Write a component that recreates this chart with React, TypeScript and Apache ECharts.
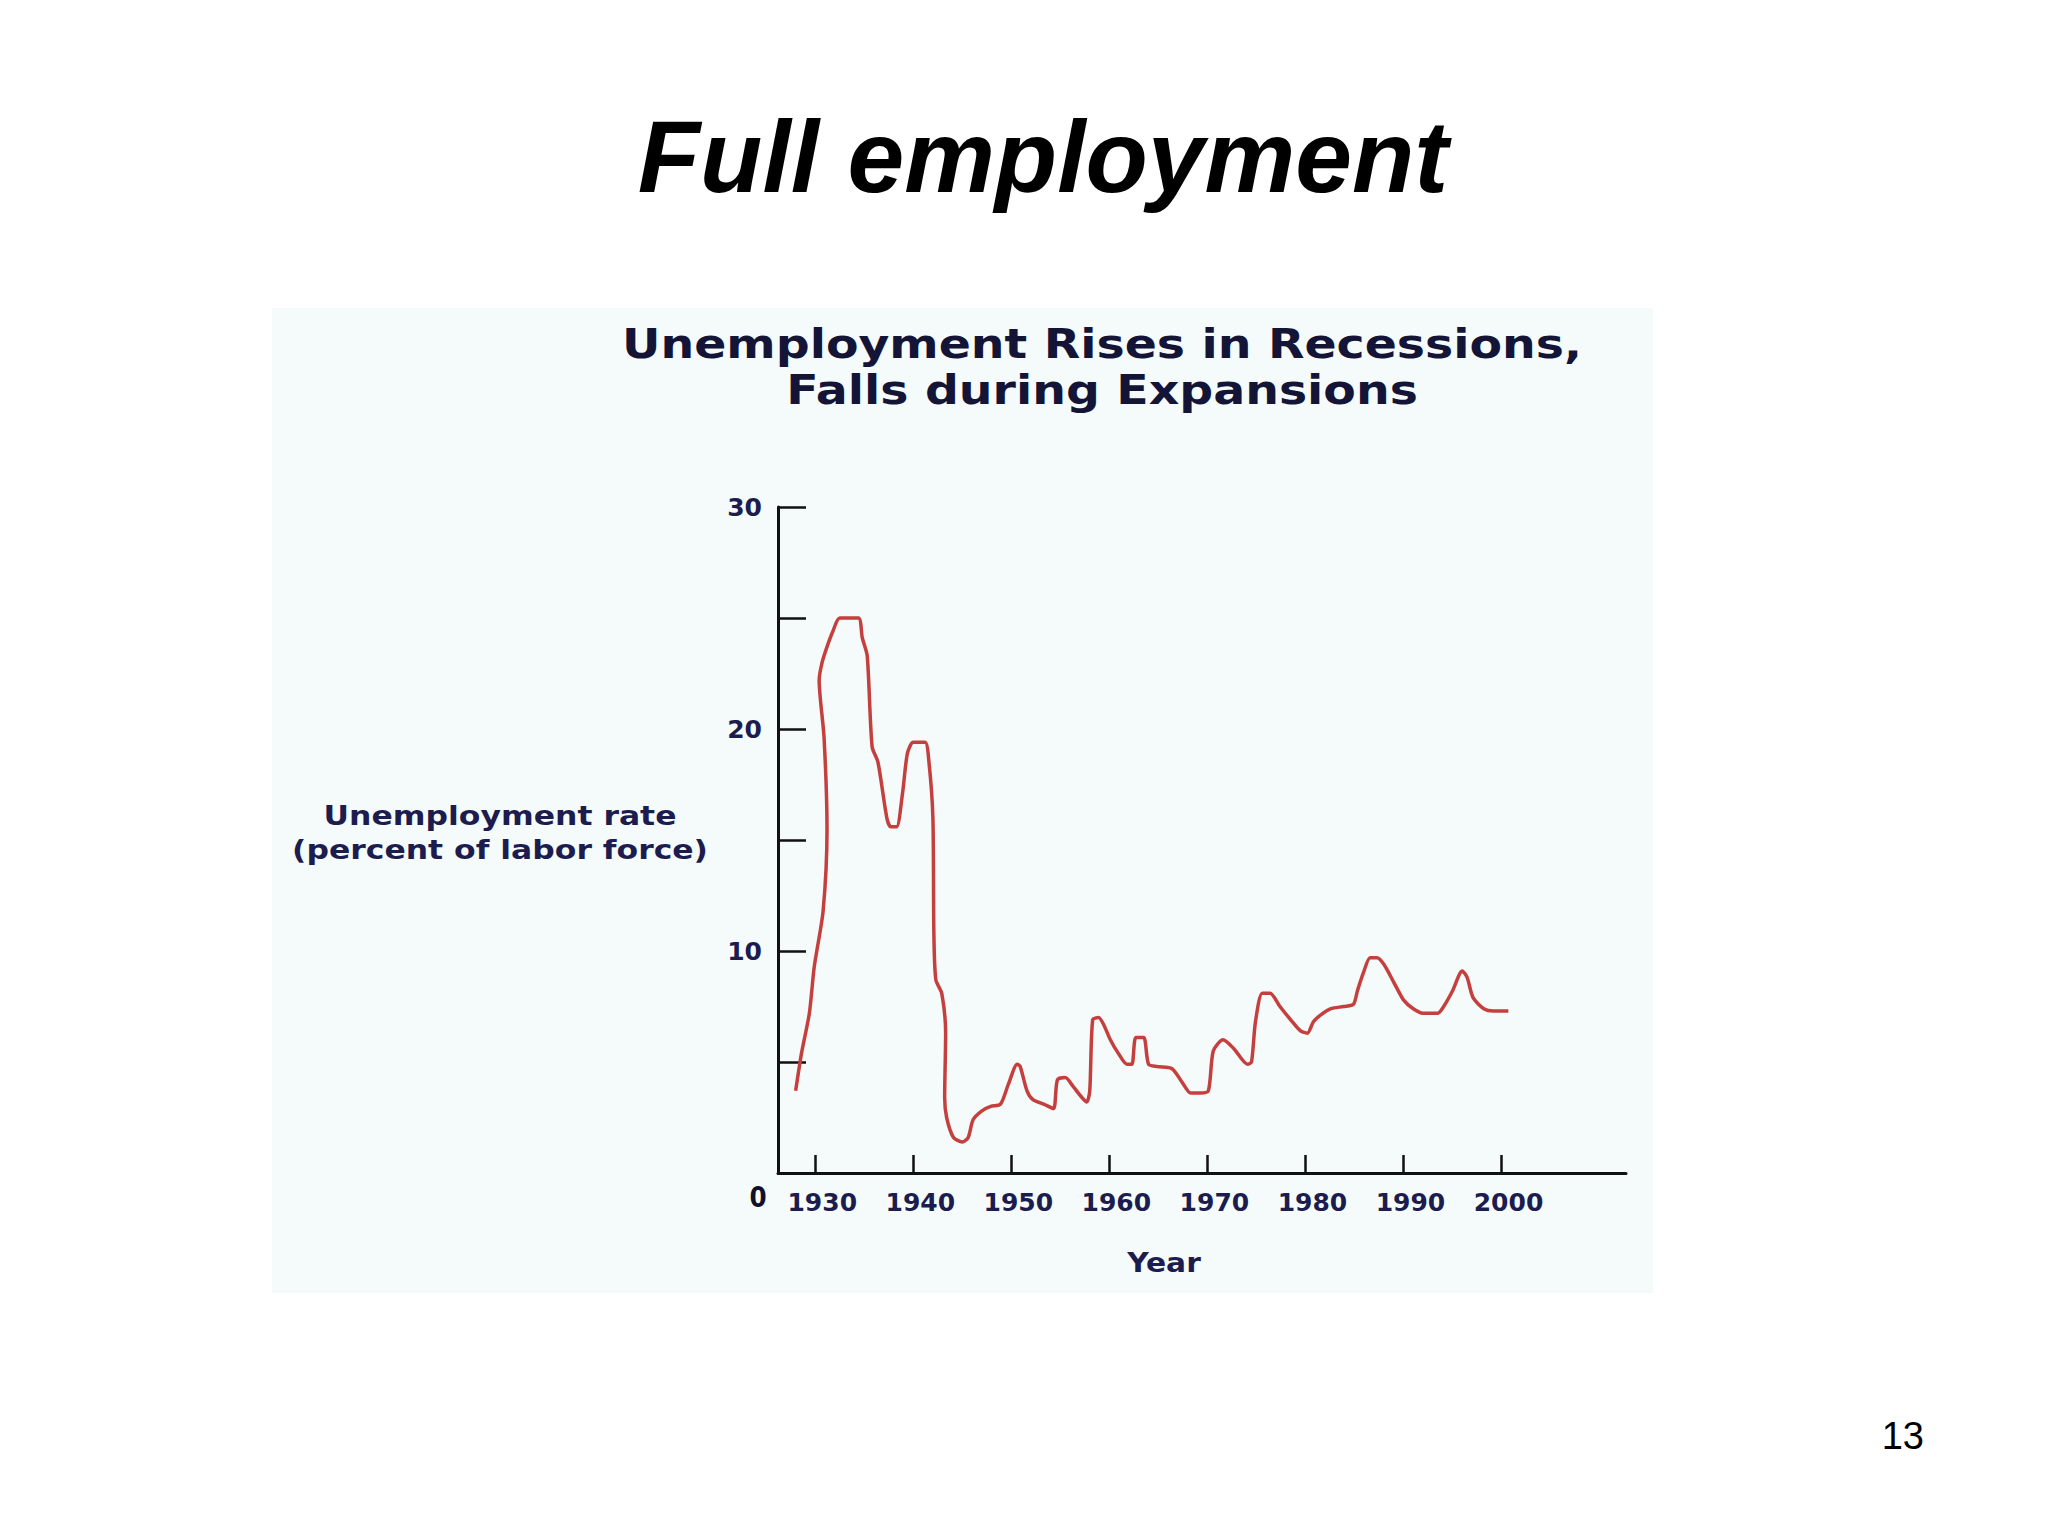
import React, { useEffect, useRef } from "react";
import * as echarts from "echarts";

// ---- data ----
const years: number[] = [
  1928.0, 1928.6, 1929.4, 1929.9, 1930.8, 1931.2, 1930.9, 1930.4, 1930.7, 1931.2,
  1931.8, 1932.5, 1934.4, 1934.8, 1935.3, 1935.8, 1936.4, 1937.3, 1937.7, 1938.3,
  1938.9, 1939.4, 1940.0, 1941.2, 1941.6, 1942.0, 1942.1, 1942.3, 1942.9, 1943.3,
  1943.2, 1943.4, 1944.1, 1945.0, 1945.6, 1946.1, 1947.0, 1947.9, 1948.9, 1949.7,
  1950.6, 1950.9, 1951.6, 1952.2, 1953.3, 1954.3, 1954.7, 1955.5, 1956.3, 1957.2,
  1957.7, 1958.0, 1958.3, 1958.9, 1959.4, 1960.1, 1960.9, 1961.8, 1962.3, 1962.7,
  1963.5, 1964.0, 1964.9, 1966.4, 1967.4, 1968.3, 1969.3, 1970.1, 1970.6, 1971.6,
  1972.7, 1974.1, 1974.5, 1974.9, 1975.6, 1976.4, 1977.4, 1978.5, 1979.5, 1980.2,
  1980.8, 1981.5, 1982.6, 1983.9, 1984.9, 1985.3, 1985.9, 1986.6, 1987.3, 1988.0,
  1989.0, 1990.0, 1991.0, 1992.0, 1993.5, 1994.1, 1995.0, 1996.0, 1996.5, 1997.1,
  1998.2, 1999.2, 2000.7,
];
const rates: number[] = [
  3.7, 5.4, 7.2, 9.3, 11.8, 15.5, 19.6, 22.2, 23.0, 23.7,
  24.4, 25.0, 25.0, 24.1, 23.3, 19.2, 18.5, 16.0, 15.6, 15.6,
  17.1, 18.9, 19.4, 19.4, 18.5, 16.0, 10.8, 8.7, 8.1, 6.3,
  3.4, 2.5, 1.6, 1.4, 1.6, 2.4, 2.8, 3.0, 3.1, 4.0,
  4.9, 4.8, 3.7, 3.3, 3.1, 2.9, 4.2, 4.3, 3.9, 3.4,
  3.2, 3.7, 6.9, 7.0, 6.7, 6.0, 5.4, 4.9, 4.9, 6.1,
  6.1, 4.9, 4.8, 4.7, 4.1, 3.6, 3.6, 3.7, 5.5, 6.0,
  5.6, 4.9, 5.0, 6.8, 8.1, 8.1, 7.5, 6.9, 6.4, 6.3,
  6.8, 7.1, 7.4, 7.5, 7.6, 8.2, 9.0, 9.7, 9.7, 9.4,
  8.6, 7.8, 7.4, 7.2, 7.2, 7.5, 8.2, 9.1, 8.8, 7.9,
  7.4, 7.3, 7.3,
];
const xTickYears: number[] = [1930, 1940, 1950, 1960, 1970, 1980, 1990, 2000];
const yLabelValues: number[] = [10, 20, 30];

const slideTitle = "Full employment";
const chartTitleLines = ["Unemployment Rises in Recessions,", "Falls during Expansions"];
const yNameLines = ["Unemployment rate", "(percent of labor force)"];
const xName = "Year";
const pageNumber = "13";

const NAVY = "#1c1c4e";
const NAVY_DARK = "#141436";

export default function App() {
  const ref = useRef<HTMLDivElement>(null);

  useEffect(() => {
    if (!ref.current) return;
    const chart = echarts.init(ref.current, undefined, { renderer: "svg" });
    const data = years.map((y, i) => [y, rates[i]]);

    const option: any = {
      animation: false,
      backgroundColor: "#ffffff",
      grid: { left: 778, top: 507, width: 848, height: 666, containLabel: false },
      xAxis: {
        type: "value",
        min: 1926.2,
        max: 2012.7,
        axisLine: { show: true, lineStyle: { color: "#111111", width: 3 } },
        axisTick: {
          show: true,
          inside: true,
          length: 18,
          customValues: xTickYears,
          lineStyle: { color: "#111111", width: 2.5 },
        },
        axisLabel: {
          show: true,
          customValues: xTickYears,
          margin: 17,
          padding: [0, 0, 0, 14],
          color: NAVY,
          fontFamily: "DejaVu Sans",
          fontWeight: "bold",
          fontSize: 25,
          formatter: (v: number) => String(Math.round(v)),
        },
        splitLine: { show: false },
      },
      yAxis: {
        type: "value",
        min: 0,
        max: 30,
        interval: 5,
        axisLine: { show: true, lineStyle: { color: "#111111", width: 3 } },
        axisTick: {
          show: true,
          inside: true,
          length: 28,
          lineStyle: { color: "#111111", width: 2.5 },
        },
        axisLabel: {
          show: true,
          margin: 16,
          color: NAVY,
          fontFamily: "DejaVu Sans",
          fontWeight: "bold",
          fontSize: 25,
          formatter: (v: number) => (yLabelValues.indexOf(v) >= 0 ? String(v) : ""),
        },
        splitLine: { show: false },
      },
      series: [
        {
          type: "line",
          data,
          showSymbol: false,
          smooth: 0.25,
          lineStyle: { color: "#c43f3e", width: 3.5 },
          z: 3,
        },
      ],
      graphic: [
        {
          type: "rect",
          z: -10,
          silent: true,
          shape: { x: 272, y: 308, width: 1381, height: 985 },
          style: { fill: "#f4fbfa" },
        },
        {
          type: "text",
          x: 1043,
          y: 157,
          z: 10,
          style: {
            text: slideTitle,
            fontFamily: "Liberation Sans",
            fontWeight: "bold",
            fontStyle: "italic",
            fontSize: 102,
            fill: "#000000",
            align: "center",
            verticalAlign: "middle",
          },
        },
        {
          type: "text",
          x: 1102,
          y: 344,
          z: 10,
          scaleX: 1.185,
          style: {
            text: chartTitleLines[0],
            fontFamily: "DejaVu Sans",
            fontWeight: "bold",
            fontSize: 40,
            fill: NAVY_DARK,
            align: "center",
            verticalAlign: "middle",
          },
        },
        {
          type: "text",
          x: 1102,
          y: 390,
          z: 10,
          scaleX: 1.185,
          style: {
            text: chartTitleLines[1],
            fontFamily: "DejaVu Sans",
            fontWeight: "bold",
            fontSize: 40,
            fill: NAVY_DARK,
            align: "center",
            verticalAlign: "middle",
          },
        },
        {
          type: "text",
          x: 500,
          y: 816,
          z: 10,
          scaleX: 1.21,
          style: {
            text: yNameLines[0],
            fontFamily: "DejaVu Sans",
            fontWeight: "bold",
            fontSize: 26,
            fill: NAVY,
            align: "center",
            verticalAlign: "middle",
          },
        },
        {
          type: "text",
          x: 500,
          y: 850,
          z: 10,
          scaleX: 1.21,
          style: {
            text: yNameLines[1],
            fontFamily: "DejaVu Sans",
            fontWeight: "bold",
            fontSize: 26,
            fill: NAVY,
            align: "center",
            verticalAlign: "middle",
          },
        },
        {
          type: "text",
          x: 1164,
          y: 1263,
          z: 10,
          scaleX: 1.1,
          style: {
            text: xName,
            fontFamily: "DejaVu Sans",
            fontWeight: "bold",
            fontSize: 27,
            fill: NAVY,
            align: "center",
            verticalAlign: "middle",
          },
        },
        {
          type: "text",
          x: 758,
          y: 1197,
          z: 10,
          scaleX: 0.85,
          style: {
            text: "0",
            fontFamily: "DejaVu Sans",
            fontWeight: "bold",
            fontSize: 29,
            fill: "#10102a",
            align: "center",
            verticalAlign: "middle",
          },
        },
        {
          type: "text",
          x: 1924,
          y: 1436,
          z: 10,
          style: {
            text: pageNumber,
            fontFamily: "Liberation Sans",
            fontSize: 38,
            fill: "#000000",
            align: "right",
            verticalAlign: "middle",
          },
        },
      ],
    };

    chart.setOption(option);
    return () => {
      chart.dispose();
    };
  }, []);

  return (
    <div
      ref={ref}
      style={{ position: "absolute", left: 0, top: 0, width: 2048, height: 1536, background: "#ffffff" }}
    />
  );
}
